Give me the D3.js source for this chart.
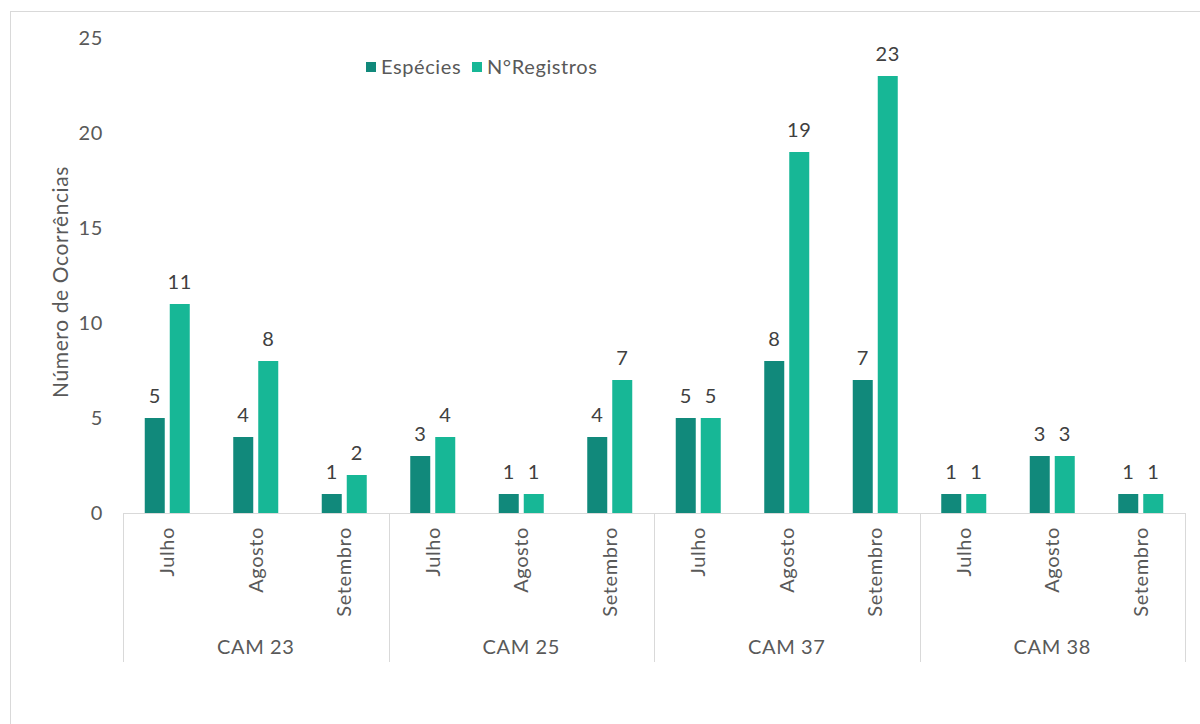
<!DOCTYPE html>
<html>
<head>
<meta charset="utf-8">
<script src="https://cdn.jsdelivr.net/npm/d3@7"></script>
<style>
  body { margin: 0; background: #fff; }
  text { font-family: Lato, "Open Sans", sans-serif; letter-spacing: 0.6px; }
</style>
</head>
<body>
<svg id="chart"></svg>
<script>
// data
var groups = ["CAM 23", "CAM 25", "CAM 37", "CAM 38"];
var months = ["Julho", "Agosto", "Setembro"];
var series = ["Espécies", "N°Registros"];
var especies = [5, 4, 1, 3, 1, 4, 5, 8, 7, 1, 3, 1];
var registros = [11, 8, 2, 4, 1, 7, 5, 19, 23, 1, 3, 1];
var yTicks = [0, 5, 10, 15, 20, 25];

var svgWidth = 1200, svgHeight = 724;
var margin = { top: 38, right: 15, bottom: 211, left: 123 };
var width = svgWidth - margin.left - margin.right;
var height = svgHeight - margin.top - margin.bottom;

var svg = d3.select("#chart")
  .attr("width", svgWidth)
  .attr("height", svgHeight);

// outer frame
svg.append("rect")
  .attr("x", 10.5).attr("y", 11.5)
  .attr("width", 1300).attr("height", 800)
  .attr("fill", "none")
  .attr("stroke", "#d9d9d9");

var chart = svg.append("g")
  .attr("transform", `translate(${margin.left}, ${margin.top})`);

// one slot per group/month pair
var cats = [];
groups.forEach(g => months.forEach(m => cats.push(g + "|" + m)));

var x = d3.scaleBand().domain(cats).range([0, width]);
var xGroup = d3.scaleBand().domain(groups).range([0, width]);
var y = d3.scaleLinear().domain([0, 25]).range([height, 0]);

var barW = 20, gap = 5;
var color = d3.scaleOrdinal().domain(series).range(["#11897b", "#17b796"]);

var rows = cats.map((c, i) => ({ cat: c, vals: [especies[i], registros[i]] }));

var slot = chart.selectAll(".slot")
  .data(rows)
  .enter().append("g")
  .attr("transform", d => `translate(${x(d.cat) + x.bandwidth() / 2}, 0)`);

slot.selectAll("rect")
  .data(d => d.vals.map((v, j) => ({ v: v, s: series[j], j: j })))
  .enter().append("rect")
  .attr("x", d => d.j === 0 ? -barW - gap / 2 : gap / 2)
  .attr("y", d => y(d.v))
  .attr("width", barW)
  .attr("height", d => height - y(d.v))
  .attr("fill", d => color(d.s));

slot.selectAll("text.val")
  .data(d => d.vals.map((v, j) => ({ v: v, j: j })))
  .enter().append("text")
  .attr("class", "val")
  .attr("x", d => d.j === 0 ? -barW / 2 - gap / 2 : barW / 2 + gap / 2)
  .attr("y", d => y(d.v) - 15)
  .attr("text-anchor", "middle")
  .attr("font-size", 20)
  .attr("fill", "#404040")
  .text(d => d.v);

// y ticks (no axis line)
chart.selectAll(".ytick")
  .data(yTicks)
  .enter().append("text")
  .attr("x", -20)
  .attr("y", d => y(d))
  .attr("dy", "0.35em")
  .attr("text-anchor", "end")
  .attr("font-size", 20)
  .attr("fill", "#595959")
  .text(d => d);

// x axis baseline
chart.append("line")
  .attr("x1", 0).attr("x2", width)
  .attr("y1", height + 0.5).attr("y2", height + 0.5)
  .attr("stroke", "#d9d9d9");

// group separators
chart.selectAll(".sep")
  .data(groups.concat(["end"]))
  .enter().append("line")
  .attr("x1", (d, i) => Math.round(i * xGroup.bandwidth()) + 0.5)
  .attr("x2", (d, i) => Math.round(i * xGroup.bandwidth()) + 0.5)
  .attr("y1", height)
  .attr("y2", height + 149)
  .attr("stroke", "#d9d9d9");

// month labels
chart.selectAll(".month")
  .data(cats)
  .enter().append("text")
  .attr("transform", d => `translate(${x(d) + x.bandwidth() / 2 + 7}, ${height + 14}) rotate(-90)`)
  .attr("text-anchor", "end")
  .attr("font-size", 20)
  .attr("fill", "#595959")
  .text(d => d.split("|")[1]);

// group labels
chart.selectAll(".group")
  .data(groups)
  .enter().append("text")
  .attr("x", d => xGroup(d) + xGroup.bandwidth() / 2)
  .attr("y", height + 141)
  .attr("text-anchor", "middle")
  .attr("font-size", 20)
  .attr("fill", "#595959")
  .text(d => d);

// y axis title
svg.append("text")
  .attr("transform", "translate(68, 282) rotate(-90)")
  .attr("text-anchor", "middle")
  .attr("font-size", 21)
  .attr("fill", "#595959")
  .text("Número de Ocorrências");

// legend
var legendX = [366, 472];
var legend = svg.selectAll(".legend")
  .data(series)
  .enter().append("g")
  .attr("transform", (d, i) => `translate(${legendX[i]}, 62)`);

legend.append("rect")
  .attr("width", 10).attr("height", 10)
  .attr("fill", d => color(d));

legend.append("text")
  .attr("x", 15)
  .attr("y", 5)
  .attr("dy", "0.35em")
  .attr("font-size", 20)
  .attr("fill", "#595959")
  .text(d => d);
</script>
</body>
</html>
